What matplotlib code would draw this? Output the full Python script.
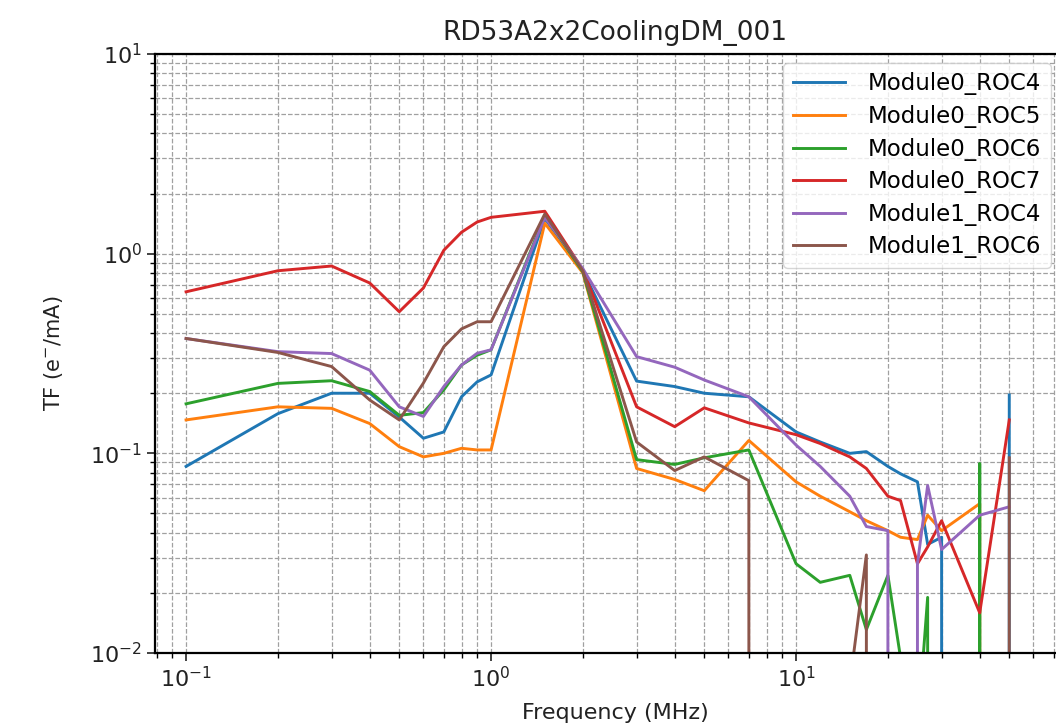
import numpy as np
import matplotlib
matplotlib.use("Agg")
import matplotlib.pyplot as plt

# frequency points (MHz)
freq = [0.1, 0.2, 0.3, 0.4, 0.5, 0.6, 0.7, 0.8, 0.9, 1.0, 1.5, 2, 3, 4, 5, 7,
        10, 12, 15, 17, 20, 22, 25, 27, 30, 40, 50]

# transfer function per chip (e-/mA); non-positive points fall off the log axis
m0_roc4 = [0.086, 0.158, 0.200, 0.200, 0.152, 0.119, 0.128, 0.192, 0.228, 0.247, 1.50, 0.82,
           0.230, 0.216, 0.200, 0.192, 0.128, 0.114, 0.100, 0.102, 0.086, 0.079, 0.072,
           0.035, 0.038, -0.01, 0.196]
m0_roc5 = [0.147, 0.171, 0.168, 0.141, 0.108, 0.096, 0.100, 0.106, 0.104, 0.104, 1.42, 0.80,
           0.084, 0.074, 0.065, 0.116, 0.072, 0.061, 0.051, 0.046, 0.041, 0.038, 0.037,
           0.049, 0.041, 0.056, -0.01]
m0_roc6 = [0.177, 0.224, 0.231, 0.204, 0.155, 0.160, 0.208, 0.277, 0.310, 0.330, 1.55, 0.81,
           0.093, 0.088, 0.095, 0.104, 0.028, 0.0226, 0.0245, 0.0131, 0.0245, 0.0095, 0.004,
           0.019, -0.01, 0.089, -0.01]
m0_roc7 = [0.644, 0.821, 0.867, 0.713, 0.512, 0.673, 1.04, 1.28, 1.44, 1.52, 1.63, 0.83,
           0.171, 0.136, 0.169, 0.142, 0.124, 0.112, 0.096, 0.084, 0.061, 0.058, 0.028,
           0.034, 0.046, 0.0159, 0.147]
m1_roc4 = [0.376, 0.323, 0.316, 0.261, 0.171, 0.153, 0.216, 0.277, 0.317, 0.330, 1.52, 0.84,
           0.305, 0.270, 0.233, 0.192, 0.110, 0.086, 0.061, 0.043, 0.041, -0.01, 0.028,
           0.069, 0.033, 0.049, 0.054]
m1_roc6 = [0.376, 0.320, 0.272, 0.185, 0.147, 0.225, 0.342, 0.420, 0.456, 0.456, 1.58, 0.82,
           0.114, 0.082, 0.096, 0.073, -0.01, -0.01, 0.007, 0.031, -0.01, -0.01, -0.01,
           -0.01, -0.01, -0.01, 0.095]

series = [m0_roc4, m0_roc5, m0_roc6, m0_roc7, m1_roc4, m1_roc6]
labels = ["Module0_ROC4", "Module0_ROC5", "Module0_ROC6", "Module0_ROC7",
          "Module1_ROC4", "Module1_ROC6"]

plt.rcParams['font.size'] = 16
fig = plt.figure(figsize=(10.56, 7.24), dpi=100)
# the axes run past the right edge of the picture, as in the reference
ax = fig.add_axes([0.1468, 0.098, 0.871, 0.8275])

for vals, lab in zip(series, labels):
    ax.plot(freq, vals, lw=2.1, label=lab)

ax.set_xscale('log')
ax.set_yscale('log')
ax.set_xlim(0.0791, 82)
ax.set_ylim(1e-2, 1e1)
ax.grid(True, which='both', linestyle='--', color='#a0a0a0', linewidth=0.9)

ax.tick_params(which='major', length=6, width=1.2, labelsize=16, colors='#222222')
ax.tick_params(which='minor', length=3.5, width=1.0)
for s in ax.spines.values():
    s.set_linewidth(1.6)

ax.set_title("RD53A2x2CoolingDM_001", fontsize=19, pad=10, color='#222222')
ax.set_xlabel("Frequency (MHz)", fontsize=16, labelpad=8, color='#222222')
ax.set_ylabel("TF (e$^{-}$/mA)", fontsize=15, labelpad=18, color='#222222')
ax.legend(loc='upper right', bbox_to_anchor=(0.984, 1.0), fontsize=16.5,
          labelspacing=0.42, handlelength=2.3, handletextpad=1.0, borderaxespad=0.4)

fig.savefig("out.png", dpi=100)
